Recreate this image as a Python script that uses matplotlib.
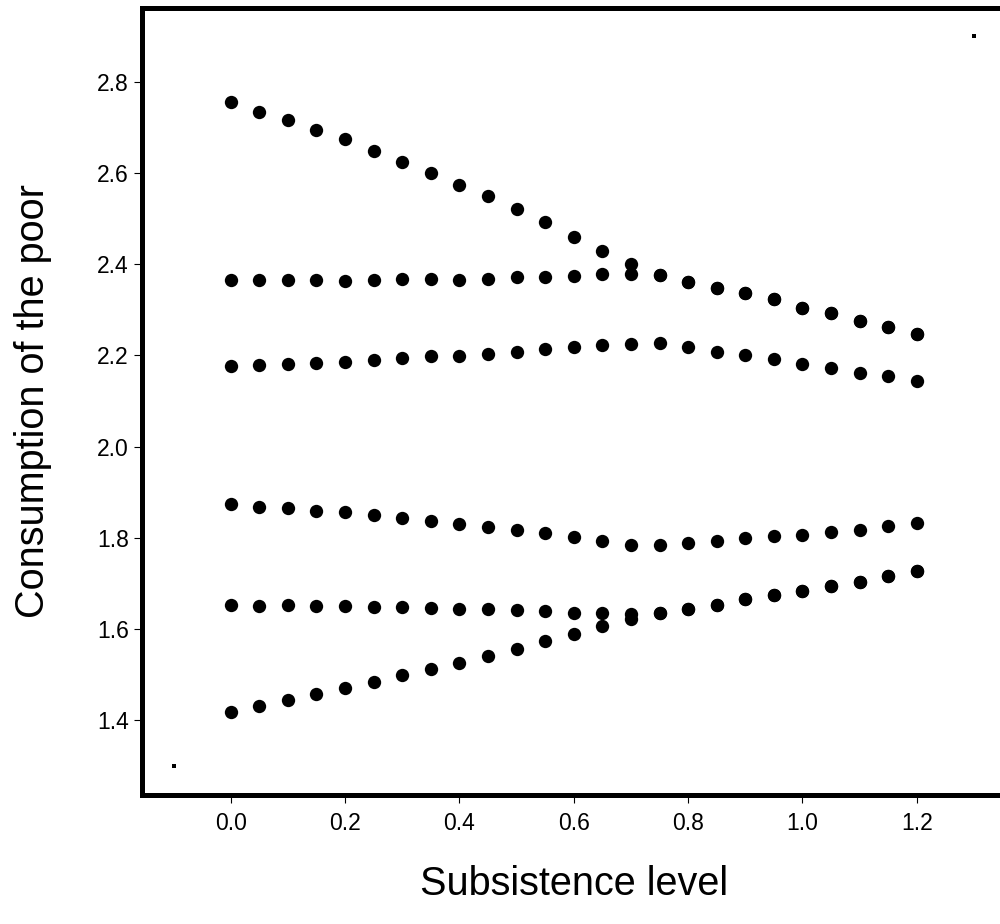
import matplotlib
matplotlib.use('Agg')
import matplotlib.pyplot as plt

plt.rcParams['font.family'] = ['Liberation Sans', 'DejaVu Sans']

# Subsistence levels (x) and consumption of the poor for six model runs
subsistence = [0.00, 0.05, 0.10, 0.15, 0.20, 0.25, 0.30, 0.35, 0.40, 0.45, 0.50, 0.55, 0.60,
               0.65, 0.70, 0.75, 0.80, 0.85, 0.90, 0.95, 1.00, 1.05, 1.10, 1.15, 1.20]

run_a = [2.756, 2.734, 2.716, 2.694, 2.674, 2.649, 2.625, 2.601, 2.573, 2.550, 2.521, 2.492, 2.460,
         2.429, 2.400, 2.376, 2.361, 2.347, 2.336, 2.323, 2.305, 2.292, 2.276, 2.263, 2.247]
run_b = [2.365, 2.365, 2.365, 2.365, 2.364, 2.365, 2.367, 2.367, 2.365, 2.368, 2.371, 2.372, 2.374,
         2.378, 2.378, 2.376, 2.361, 2.347, 2.336, 2.323, 2.305, 2.292, 2.276, 2.263, 2.247]
run_c = [2.177, 2.180, 2.182, 2.184, 2.185, 2.190, 2.194, 2.198, 2.198, 2.203, 2.208, 2.213, 2.218,
         2.223, 2.226, 2.228, 2.218, 2.208, 2.201, 2.193, 2.181, 2.173, 2.162, 2.155, 2.144]
run_d = [1.874, 1.868, 1.865, 1.859, 1.856, 1.849, 1.843, 1.837, 1.830, 1.824, 1.817, 1.811, 1.801,
         1.793, 1.785, 1.784, 1.788, 1.793, 1.799, 1.804, 1.807, 1.813, 1.818, 1.826, 1.833]
run_e = [1.652, 1.651, 1.652, 1.651, 1.651, 1.649, 1.648, 1.646, 1.644, 1.644, 1.641, 1.640, 1.636,
         1.636, 1.632, 1.636, 1.644, 1.653, 1.665, 1.675, 1.683, 1.694, 1.704, 1.717, 1.728]
run_f = [1.418, 1.432, 1.444, 1.457, 1.470, 1.484, 1.499, 1.512, 1.525, 1.541, 1.557, 1.573, 1.589,
         1.606, 1.621, 1.636, 1.644, 1.653, 1.665, 1.675, 1.683, 1.694, 1.704, 1.717, 1.728]

# tiny corner points that fix the plot range
corner_x = [-0.1, 1.3]
corner_y = [1.3, 2.9]

x_ticks = [0.0, 0.2, 0.4, 0.6, 0.8, 1.0, 1.2]
y_ticks = [1.4, 1.6, 1.8, 2.0, 2.2, 2.4, 2.6, 2.8]

fig = plt.figure(figsize=(10, 9.24), dpi=100)
ax = fig.add_axes([0.1415, 1 - 795 / 924, 0.8645, (795 - 7.5) / 924])

for run in [run_a, run_b, run_c, run_d, run_e, run_f]:
    ax.plot(subsistence, run, linestyle='none', marker='o', markersize=9.6,
            color='black', markeredgewidth=0)

ax.plot(corner_x, corner_y, linestyle='none', marker='s', markersize=2.2,
        color='black', markeredgewidth=0)

ax.set_xlim(-0.156, 1.356)
ax.set_ylim(1.236, 2.963)
ax.set_xticks(x_ticks)
ax.set_yticks(y_ticks)
ax.set_xticklabels(['%.1f' % t for t in x_ticks])
ax.set_yticklabels(['%.1f' % t for t in y_ticks])
ax.tick_params(direction='out', length=6, width=0.8, pad=3, labelsize=16.5)
ax.tick_params(axis='x', pad=6)

for side in ['left', 'bottom', 'top', 'right']:
    ax.spines[side].set_linewidth(3.6)

ax.set_xlabel('Subsistence level', fontsize=28.5, va='top')
ax.xaxis.set_label_coords(0.5, -0.089)
ax.set_ylabel('Consumption of the poor', fontsize=28.5)
ax.yaxis.set_label_coords(-0.104, 0.5)

plt.savefig('out.png', dpi=100)
